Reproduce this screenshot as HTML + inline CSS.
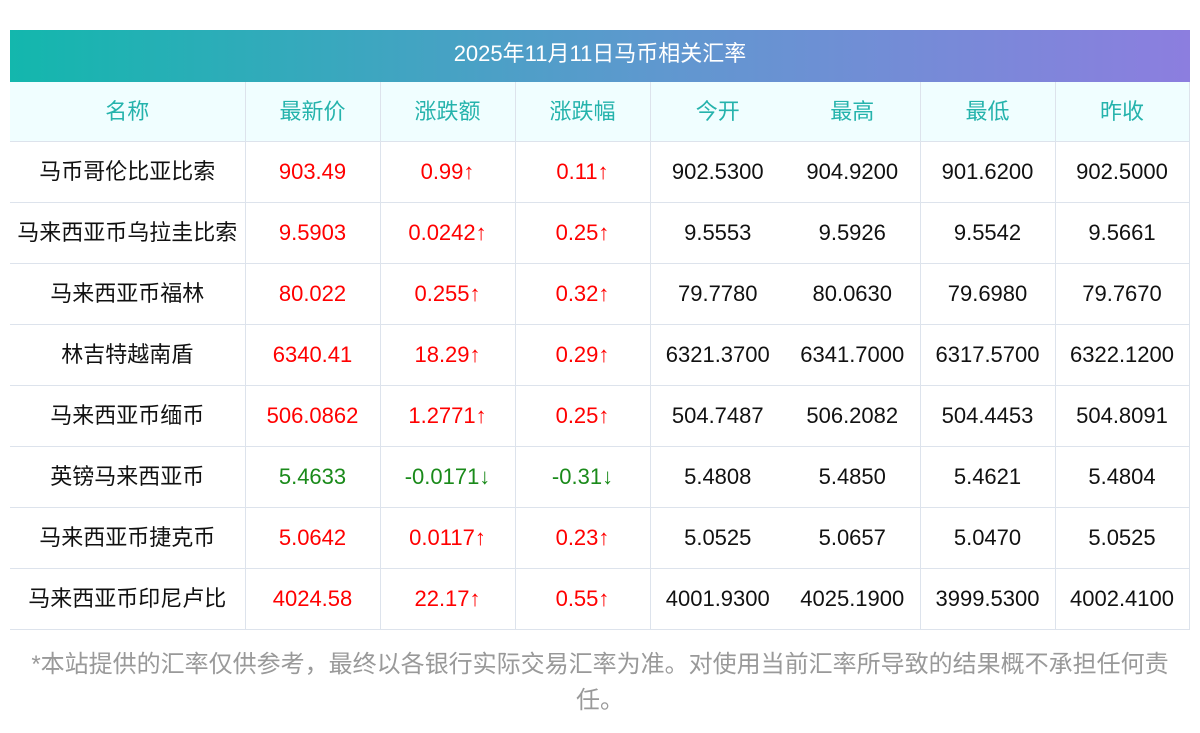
<!DOCTYPE html>
<html><head><meta charset="utf-8"><style>
body{margin:0;width:1200px;height:733px;background:#fff;font-family:"Liberation Sans","Noto Sans CJK SC",sans-serif;overflow:hidden}
.cj span{position:relative;top:-2px}
.cj{font-family:"Noto Sans CJK SC","Liberation Sans",sans-serif}
.title{position:absolute;left:10px;top:30px;width:1180px;height:52px;background:linear-gradient(90deg,#13b7ad,#5f98cf 55%,#8c7edf);color:#fff;font-size:22px;line-height:48px;text-align:center}
table{position:absolute;left:10px;top:82px;width:1179px;border-collapse:collapse;table-layout:fixed}
td{height:60px;border:1px solid #dde3ec;text-align:center;font-size:22px;color:#111;padding:0;line-height:1}
tr.h td{background:#f0feff;color:#25b3ac;height:59px}
tr:first-child td{border-top:none}
td:first-child{border-left:none}
td.o{border-right:none}
.nl{border-left:none!important}
.r{color:#f00}.g{color:#1a8a1a}
.note{position:absolute;left:25px;width:1150px;top:647px;text-align:center;color:#999;font-size:24px;line-height:36px}
</style></head><body>
<div class="title">2025年11月11日马币相关汇率</div>
<table>
<colgroup><col style="width:235px"><col style="width:135px"><col style="width:135px"><col style="width:135px"><col style="width:135px"><col style="width:135px"><col style="width:135px"><col style="width:134px"></colgroup>
<tr class="h cj"><td><span>名称</span></td><td><span>最新价</span></td><td><span>涨跌额</span></td><td><span>涨跌幅</span></td><td class="o"><span>今开</span></td><td class="nl"><span>最高</span></td><td><span>最低</span></td><td><span>昨收</span></td></tr>
<tr><td class="cj"><span>马币哥伦比亚比索</span></td><td class="r">903.49</td><td class="r">0.99↑</td><td class="r">0.11↑</td><td class="o">902.5300</td><td class="nl">904.9200</td><td>901.6200</td><td>902.5000</td></tr>
<tr><td class="cj"><span>马来西亚币乌拉圭比索</span></td><td class="r">9.5903</td><td class="r">0.0242↑</td><td class="r">0.25↑</td><td class="o">9.5553</td><td class="nl">9.5926</td><td>9.5542</td><td>9.5661</td></tr>
<tr><td class="cj"><span>马来西亚币福林</span></td><td class="r">80.022</td><td class="r">0.255↑</td><td class="r">0.32↑</td><td class="o">79.7780</td><td class="nl">80.0630</td><td>79.6980</td><td>79.7670</td></tr>
<tr><td class="cj"><span>林吉特越南盾</span></td><td class="r">6340.41</td><td class="r">18.29↑</td><td class="r">0.29↑</td><td class="o">6321.3700</td><td class="nl">6341.7000</td><td>6317.5700</td><td>6322.1200</td></tr>
<tr><td class="cj"><span>马来西亚币缅币</span></td><td class="r">506.0862</td><td class="r">1.2771↑</td><td class="r">0.25↑</td><td class="o">504.7487</td><td class="nl">506.2082</td><td>504.4453</td><td>504.8091</td></tr>
<tr><td class="cj"><span>英镑马来西亚币</span></td><td class="g">5.4633</td><td class="g">-0.0171↓</td><td class="g">-0.31↓</td><td class="o">5.4808</td><td class="nl">5.4850</td><td>5.4621</td><td>5.4804</td></tr>
<tr><td class="cj"><span>马来西亚币捷克币</span></td><td class="r">5.0642</td><td class="r">0.0117↑</td><td class="r">0.23↑</td><td class="o">5.0525</td><td class="nl">5.0657</td><td>5.0470</td><td>5.0525</td></tr>
<tr><td class="cj"><span>马来西亚币印尼卢比</span></td><td class="r">4024.58</td><td class="r">22.17↑</td><td class="r">0.55↑</td><td class="o">4001.9300</td><td class="nl">4025.1900</td><td>3999.5300</td><td>4002.4100</td></tr>
</table>
<div class="note">*本站提供的汇率仅供参考，最终以各银行实际交易汇率为准。对使用当前汇率所导致的结果概不承担任何责任。</div>
</body></html>
